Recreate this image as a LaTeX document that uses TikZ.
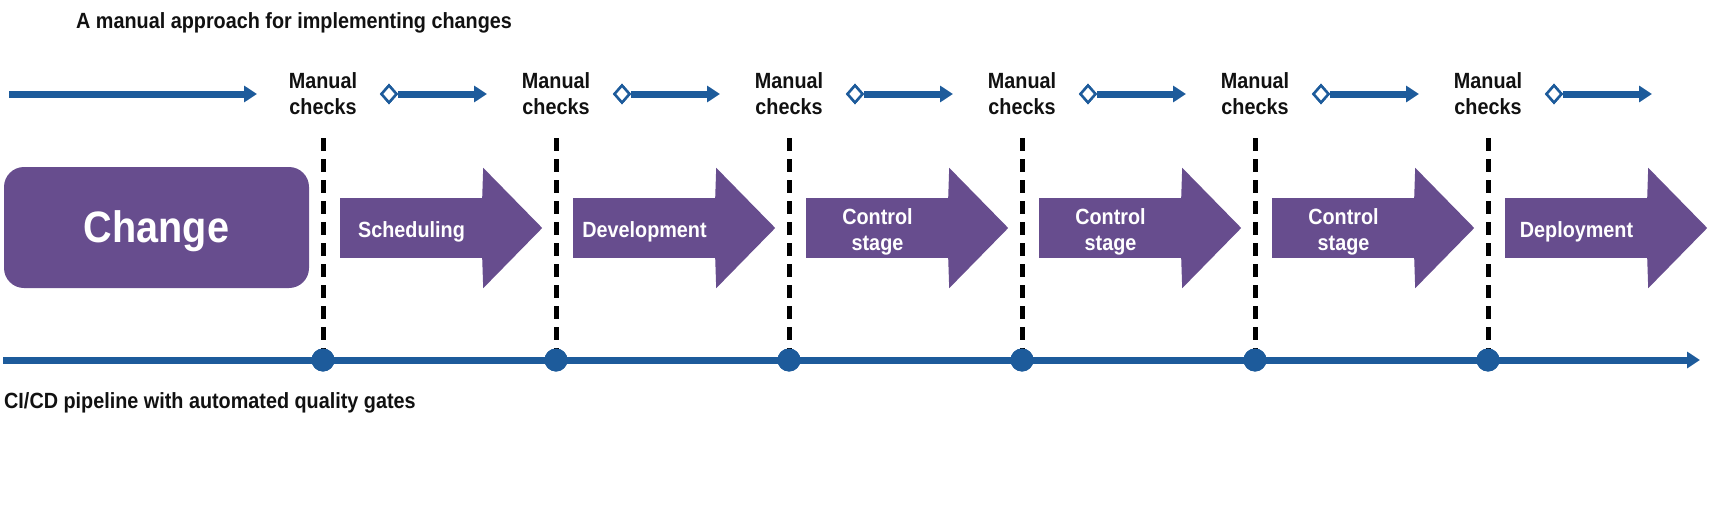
\documentclass[tikz,border=0pt]{standalone}
\usepackage{fontspec}
\setmainfont{Liberation Sans}
\newfontfamily\labfont{Liberation Sans}[FakeStretch=0.9]
\usetikzlibrary{arrows.meta,shapes.geometric,calc}
\definecolor{pipeblue}{HTML}{1D5B9B}
\definecolor{stagepurple}{HTML}{674D8E}
\definecolor{inkblack}{HTML}{111111}
\begin{document}
\begin{tikzpicture}[x=1pt,y=-1pt,
  lbl/.style={font=\labfont\bfseries\fontsize{22}{26}\selectfont, text=inkblack, align=center, inner sep=0pt},
  toparrow/.style={draw=pipeblue, line width=7pt, -{Triangle[length=13pt,width=16pt]}},
  pipe/.style={draw=pipeblue, line width=7pt, -{Triangle[length=13pt,width=16pt]}},
  gatediamond/.style={diamond, draw=pipeblue, line width=2.5pt, fill=white, minimum width=16pt, minimum height=18pt, inner sep=0pt},
  gatedot/.style={circle, fill=pipeblue, minimum size=23pt, inner sep=0pt},
  gateline/.style={draw=black, line width=5pt, dash pattern=on 13pt off 8pt},
  stagebody/.style={fill=stagepurple, minimum width=143pt, minimum height=60pt, inner sep=0pt},
  stagelabel/.style={text=white, align=center, inner sep=0pt, font=\labfont\bfseries\fontsize{22}{26}\selectfont},
  changebox/.style={fill=stagepurple, rounded corners=20pt, minimum width=305pt, minimum height=121pt},
  changelabel/.style={text=white, inner sep=0pt, font=\labfont\bfseries\fontsize{44}{50}\selectfont}
]
\useasboundingbox (0,0) rectangle (1717,530);

% titles
\node[lbl, anchor=base west] (title) at (76,28) {A manual approach for implementing changes};
\node[lbl, anchor=base west] (cicd) at (4,408) {CI/CD pipeline with automated quality gates};

% first top arrow
\coordinate (ts0) at (9,94);
\coordinate (te0) at (257,94);
\draw[toparrow] (ts0) -- (te0);

% bottom pipeline
\coordinate (bs) at (3,360);
\coordinate (be) at (1700,360);
\draw[pipe] (bs) -- (be);

% change box
\node[changebox] (change) at (156.5,227.5) {};
\node[changelabel] (changetxt) at ($(change.center)+(0,4)$) {Change};

% gates
\foreach \i in {0,...,5} {
  \pgfmathsetmacro\gx{323+233*\i}
  \node[lbl] (mc\i) at (\gx,94) {Manual\\checks};
  \coordinate (dt\i) at (\gx,138);
  \node[gatedot] (dot\i) at (\gx,360) {};
  \draw[gateline] (dt\i) -- (dot\i.center);
  \node[gatedot] at (dot\i) {};
  \coordinate (ae\i) at (\gx+164,94);
  \node[gatediamond] (dm\i) at (\gx+66,94) {};
  \draw[toparrow] (dm\i.east) -- (ae\i);
  \node[gatediamond] at (dm\i) {};
}

% stages
\foreach \i/\t in {0/Scheduling,1/Development,2/{Control\\stage},3/{Control\\stage},4/{Control\\stage},5/Deployment} {
  \pgfmathsetmacro\sx{411.5+233*\i}
  \node[stagebody] (st\i) at (\sx,228) {};
  \fill[stagepurple] ([xshift=-1pt]st\i.north east) -- ++(1,-30) -- ($(st\i.east)+(59,0)$) -- ($(st\i.south east)+(0,30)$) -- ([xshift=-1pt]st\i.south east) -- cycle;
  \node[stagelabel] (lb\i) at ($(st\i.center)+(0,3.5)$) {\t};
}
\end{tikzpicture}
\end{document}
